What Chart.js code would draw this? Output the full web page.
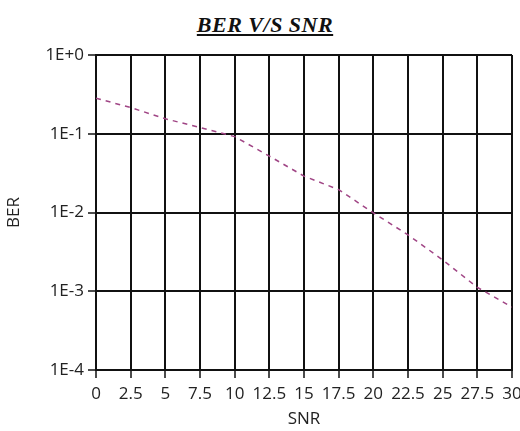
<!DOCTYPE html>
<html>
<head>
<meta charset="utf-8">
<script src="https://cdn.jsdelivr.net/npm/chart.js@4"></script>
<style>
  html, body { margin: 0; padding: 0; background: #fff; }
  #wrap { position: relative; width: 520px; height: 431px; }
  #title {
    position: absolute; left: 0; top: 12px; width: 530px; text-align: center;
    font-family: "Liberation Serif", serif; font-size: 22px; font-weight: bold;
    font-style: italic; text-decoration: underline; color: #111; letter-spacing: 0.5px;
  }
  canvas { position: absolute; left: 0; top: 0; }
</style>
</head>
<body>
<div id="wrap">
  <div id="title">BER V/S SNR</div>
  <canvas id="myChart" width="520" height="431"></canvas>
</div>
<script>
// values
const snr = [0, 2.5, 5, 7.5, 10, 12.5, 15, 17.5, 20, 22.5, 25, 27.5, 30];
const ber = [0.283, 0.215, 0.155, 0.12, 0.092, 0.052, 0.029, 0.0195, 0.0099, 0.0052, 0.0025, 0.00112, 0.00063];
const yTicks = [1, 0.1, 0.01, 0.001, 0.0001];

const points = snr.map((x, i) => ({ x: x, y: ber[i] }));

const tickFont = { family: "'Open Sans', sans-serif", size: 17 };

const config = {
    type: 'scatter',
    data: {
        datasets: [{
            data: points,
            showLine: true,
            borderColor: '#a04585',
            borderWidth: 1.5,
            borderDash: [5, 5],
            pointRadius: 0,
            fill: false
        }]
    },
    options: {
        responsive: false,
        animation: false,
        layout: { padding: { top: 55, right: 0, left: 0, bottom: 0 } },
        plugins: { legend: { display: false }, tooltip: { enabled: false } },
        scales: {
            x: {
                type: 'linear',
                min: 0, max: 30,
                ticks: { stepSize: 2.5, color: '#222', font: tickFont, padding: 6, maxRotation: 0, autoSkip: false },
                grid: { color: '#111', lineWidth: 2, tickColor: '#111', tickLength: 8, tickWidth: 1.5 },
                border: { color: '#111', width: 2 },
                title: { display: true, text: 'SNR', color: '#222', font: tickFont, padding: { top: 4, bottom: 2 } },
                afterFit: (scale) => {
                    scale.height = 61;
                    scale.paddingLeft = 0;
                    scale.paddingRight = 8;
                }
            },
            y: {
                type: 'logarithmic',
                min: 0.0001, max: 1,
                afterBuildTicks: (scale) => { scale.ticks = yTicks.map(v => ({ value: v })); },
                ticks: {
                    color: '#222', font: tickFont, padding: 4,
                    callback: (v) => '1E' + (v >= 1 ? '+0' : Math.round(Math.log10(v)))
                },
                grid: { color: '#111', lineWidth: 2, tickColor: '#111', tickLength: 8, tickWidth: 1.5 },
                border: { color: '#111', width: 2 },
                title: { display: true, text: 'BER', color: '#222', font: tickFont, padding: { left: 9, right: 0 } },
                afterFit: (scale) => {
                    scale.width = 96;
                    scale.paddingTop = 0;
                    scale.paddingBottom = 0;
                }
            }
        }
    }
};

new Chart(document.getElementById('myChart'), config);
</script>
</body>
</html>
